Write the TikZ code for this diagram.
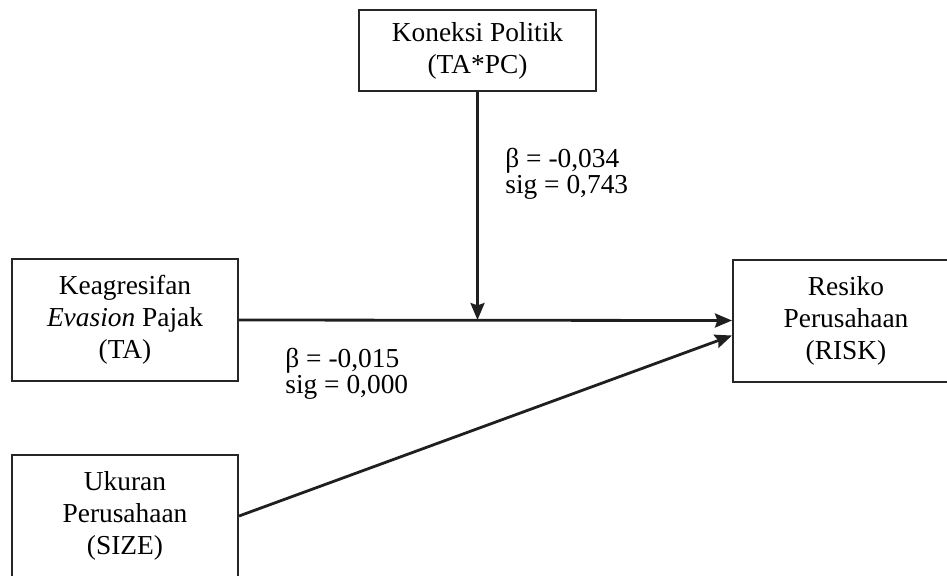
\documentclass[tikz,border=0pt]{standalone}
\usepackage{fontspec}
\setmainfont{Liberation Serif}
\usetikzlibrary{arrows.meta,calc}
\begin{document}
\begin{tikzpicture}[x=0.5pt,y=-0.5pt,
  box/.style={draw=black!85,line width=1pt,minimum width=113pt,minimum height=61pt,
    align=center,font=\fontsize{13.7pt}{16pt}\selectfont,inner sep=0pt},
  conn/.style={line width=1.4pt,draw=black!88,-{Stealth[length=8.5pt,width=7pt,inset=1.2pt]}},
  lbl/.style={font=\fontsize{13.7pt}{16pt}\selectfont,inner sep=0pt,anchor=base west}]
\useasboundingbox (0,0) rectangle (947,575);
\clip (0,0) rectangle (947,575);
\node[box,minimum width=118.5pt,minimum height=40.5pt] (pc) at (477.5,50.5) {Koneksi Politik\\(TA*PC)};
\node[box] (ta) at (125,320) {Keagresifan\\\textit{Evasion} Pajak\\(TA)};
\node[box] (size) at (125,516) {Ukuran\\Perusahaan\\(SIZE)};
\node[box] (risk) at (846,320.5) {Resiko\\Perusahaan\\(RISK)};
\coordinate (m) at (pc.south |- ta.east);
\coordinate (r2) at ($(risk.west)+(0,15)$);
\draw[conn] (ta.east) -- (risk.west);
\draw[conn] (pc.south) -- (m);
\draw[conn] (size.east) -- (r2);
\node[lbl] (b1) at (505,167) {β = -0,034};
\node[lbl] (s1) at (505,193) {sig = 0,743};
\node[lbl] (b2) at (285,367) {β = -0,015};
\node[lbl] (s2) at (285,393) {sig = 0,000};
\end{tikzpicture}
\end{document}
